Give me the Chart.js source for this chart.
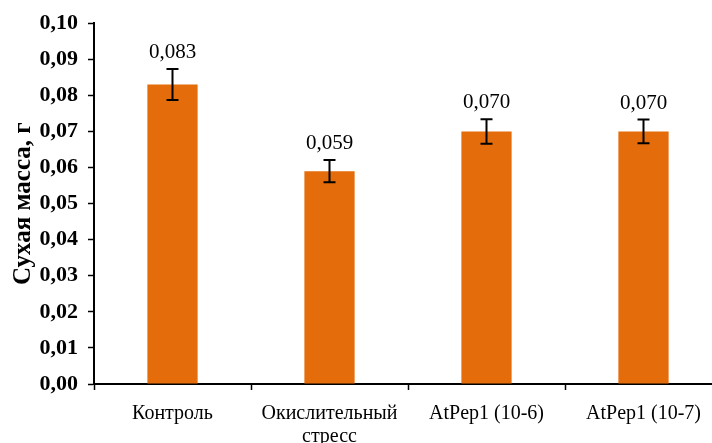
<!DOCTYPE html>
<html>
<head>
<meta charset="utf-8">
<script src="https://cdn.jsdelivr.net/npm/chart.js@4"></script>
<style>
    html, body { margin: 0; padding: 0; overflow: hidden; background: #fff; }
    #wrap { width: 722px; height: 443px; }
</style>
</head>
<body>
<div id="wrap"><canvas id="massChart"></canvas></div>
<script>
const categories = ['Контроль', ['Окислительный', 'стресс'], 'AtPep1 (10-6)', 'AtPep1 (10-7)'];
const dryMass = [0.083, 0.059, 0.070, 0.070];
const errors = [0.0043, 0.0031, 0.0034, 0.0033];
const valueLabels = ['0,083', '0,059', '0,070', '0,070'];

const serif = '"Liberation Serif", "Times New Roman", serif';

// error bars + value labels
const errorBarPlugin = {
    id: 'errorBars',
    afterDatasetsDraw(chart) {
        const ctx = chart.ctx;
        const y = chart.scales.y;
        const meta = chart.getDatasetMeta(0);
        ctx.save();
        ctx.strokeStyle = '#000';
        ctx.lineWidth = 2;
        meta.data.forEach((bar, i) => {
            const top = y.getPixelForValue(dryMass[i] + errors[i]);
            const bottom = y.getPixelForValue(dryMass[i] - errors[i]);
            const x = bar.x;
            ctx.beginPath();
            ctx.moveTo(x, top); ctx.lineTo(x, bottom);
            ctx.moveTo(x - 6, top); ctx.lineTo(x + 6, top);
            ctx.moveTo(x - 6, bottom); ctx.lineTo(x + 6, bottom);
            ctx.stroke();

            ctx.fillStyle = '#000';
            ctx.font = '21px ' + serif;
            ctx.textAlign = 'center';
            ctx.textBaseline = 'alphabetic';
            ctx.fillText(valueLabels[i], x, top - 11);
        });
        ctx.restore();
    }
};

const ctx = document.getElementById('massChart').getContext('2d');

new Chart(ctx, {
    type: 'bar',
    data: {
        labels: categories,
        datasets: [{
            data: dryMass,
            backgroundColor: '#E46C0A',
            barPercentage: 0.32,
            categoryPercentage: 1.0
        }]
    },
    options: {
        responsive: true,
        maintainAspectRatio: false,
        animation: false,
        layout: { padding: { top: 22, right: 0, bottom: 0, left: 0 } },
        plugins: {
            legend: { display: false },
            tooltip: { enabled: false }
        },
        scales: {
            x: {
                afterFit: (scale) => { scale.height = 59; },
                grid: {
                    drawOnChartArea: false,
                    color: '#000',
                    tickLength: 6,
                    tickWidth: 1.5
                },
                border: { color: '#000', width: 2 },
                ticks: {
                    color: '#000',
                    font: { family: serif, size: 20, lineHeight: 1.15 },
                    padding: 12,
                    maxRotation: 0
                }
            },
            y: {
                min: 0,
                max: 0.1,
                afterFit: (scale) => { scale.width = 94; },
                title: {
                    display: true,
                    text: 'Сухая масса, г',
                    color: '#000',
                    font: { family: serif, size: 25, weight: 'bold' },
                    padding: { top: 9, bottom: 0 }
                },
                grid: {
                    drawOnChartArea: false,
                    color: '#000',
                    tickLength: 6,
                    tickWidth: 1.5
                },
                border: { color: '#000', width: 2 },
                ticks: {
                    stepSize: 0.01,
                    color: '#000',
                    padding: 10,
                    font: { family: serif, size: 22, weight: 'bold' },
                    callback: (v) => v.toFixed(2).replace('.', ',')
                }
            }
        }
    },
    plugins: [errorBarPlugin]
});
</script>
</body>
</html>
